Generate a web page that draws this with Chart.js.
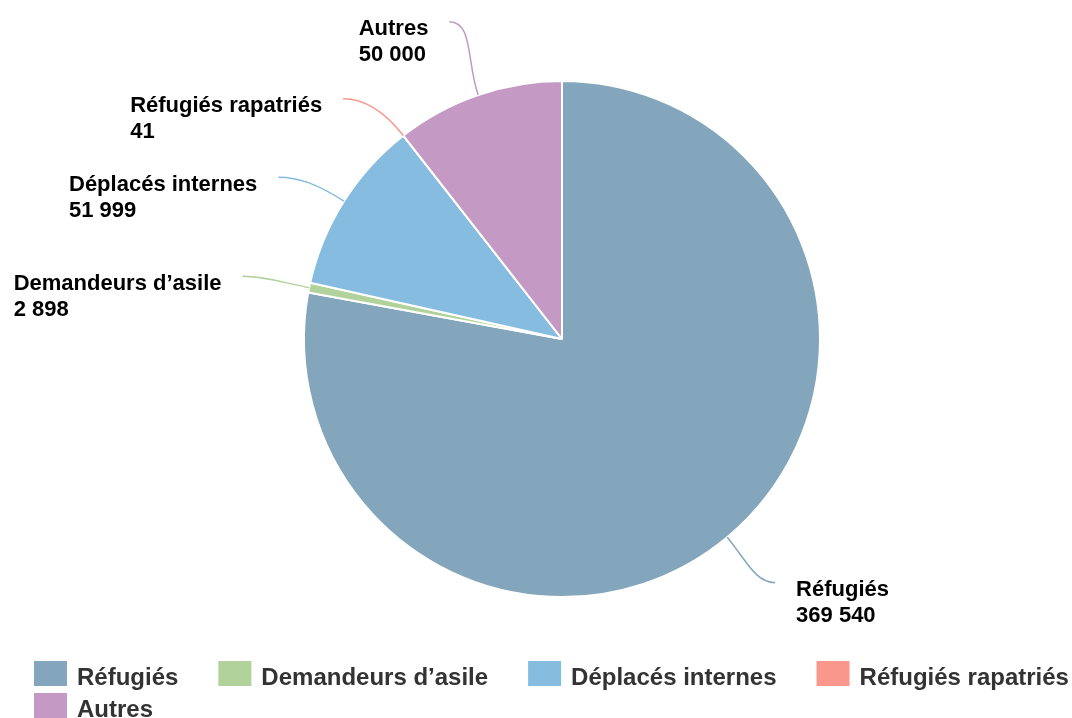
<!DOCTYPE html>
<html><head><meta charset="utf-8">
<script src="https://cdn.jsdelivr.net/npm/chart.js@4"></script>
<style>html,body{margin:0;padding:0;background:#fff}#wrap{width:1072px;height:718px;position:relative}</style>
</head><body><div id="wrap"><canvas id="c"></canvas></div>
<script>
const categories = ['Réfugiés', 'Demandeurs d’asile', 'Déplacés internes', 'Réfugiés rapatriés', 'Autres'];
const values = [369540, 2898, 51999, 41, 50000];
const colors = ['#84a6bd', '#b1d39b', '#85bce0', '#f9978d', '#c49ac5'];

// label layout nudges (px) relative to the natural radial position
const labelNudge = [[5, -6], [-1, 2], [-9, 12], [-19, 16], [-7, -10]];

function fmt(v) { return String(v).replace(/\B(?=(\d{3})+(?!\d))/g, ' '); }

const FONT = '"Liberation Sans", Arial, Helvetica, sans-serif';

const pieLabels = {
  id: 'pieLabels',
  afterDatasetsDraw(chart) {
    const ctx = chart.ctx;
    const meta = chart.getDatasetMeta(0);
    ctx.save();
    meta.data.forEach((arc, i) => {
      const p = arc.getProps(['x', 'y', 'startAngle', 'endAngle', 'outerRadius'], true);
      const mid = (p.startAngle + p.endAngle) / 2;
      const dx = Math.cos(mid), dy = Math.sin(mid);
      const ex = p.x + dx * p.outerRadius, ey = p.y + dy * p.outerRadius;
      const R = p.outerRadius + 67;
      const ax = p.x + dx * R + labelNudge[i][0];
      const ay = p.y + dy * R + labelNudge[i][1];
      const side = ax > p.x ? 1 : -1;
      const d = Math.hypot(ax - ex, ay - ey);
      ctx.beginPath();
      ctx.moveTo(ex, ey);
      ctx.bezierCurveTo(ex + dx * d * 0.45, ey + dy * d * 0.45, ax - side * d * 0.3, ay, ax, ay);
      ctx.strokeStyle = colors[i];
      ctx.lineWidth = 1.5;
      ctx.stroke();
      ctx.font = 'bold 22px ' + FONT;
      ctx.fillStyle = '#000';
      ctx.textAlign = 'left';
      ctx.textBaseline = 'alphabetic';
      const l1 = chart.data.labels[i], l2 = fmt(chart.data.datasets[0].data[i]);
      const w = Math.max(ctx.measureText(l1).width, ctx.measureText(l2).width);
      const tx = side > 0 ? ax + 21 : ax - 21 - w;
      ctx.fillText(l1, tx, ay + 13.5);
      ctx.fillText(l2, tx, ay + 39.5);
    });
    ctx.restore();
  }
};

const bottomLegend = {
  id: 'bottomLegend',
  afterDraw(chart) {
    const ctx = chart.ctx;
    ctx.save();
    ctx.font = 'bold 24px ' + FONT;
    ctx.textBaseline = 'alphabetic';
    const startX = 34, boxW = 33, boxH = 25, textGap = 10, itemGap = 40, rowH = 32;
    let x = startX, row = 0;
    const maxX = chart.width - 2;
    chart.data.labels.forEach((lab, i) => {
      const tw = ctx.measureText(lab).width;
      const iw = boxW + textGap + tw;
      if (x > startX && x + iw > maxX) { x = startX; row++; }
      const top = 661 + row * rowH;
      ctx.fillStyle = colors[i];
      ctx.fillRect(x, top, boxW, boxH);
      ctx.fillStyle = '#333';
      ctx.fillText(lab, x + boxW + textGap, top + 24);
      x += iw + itemGap;
    });
    ctx.restore();
  }
};

new Chart(document.getElementById('c'), {
  type: 'pie',
  data: {
    labels: categories,
    datasets: [{
      data: values,
      backgroundColor: colors,
      borderColor: '#ffffff',
      borderWidth: 2
    }]
  },
  options: {
    responsive: true,
    maintainAspectRatio: false,
    animation: false,
    layout: { padding: { top: 80, bottom: 120, left: 80, right: 28 } },
    radius: 258,
    plugins: {
      legend: { display: false },
      tooltip: { enabled: false }
    }
  },
  plugins: [pieLabels, bottomLegend]
});
</script>
</body></html>
